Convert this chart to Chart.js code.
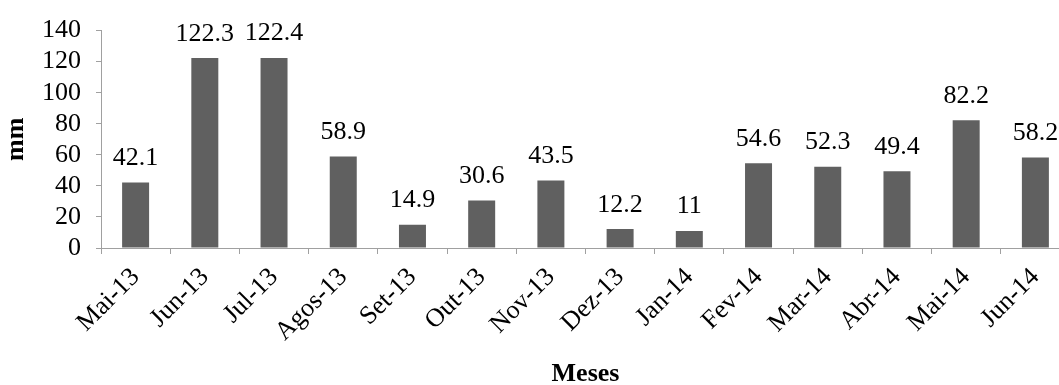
<!DOCTYPE html>
<html>
<head>
<meta charset="utf-8">
<script src="https://cdn.jsdelivr.net/npm/chart.js@4.4.1/dist/chart.umd.min.js"></script>
<style>
  html, body { margin: 0; padding: 0; background: #fff; overflow: hidden; }
  #wrap { width: 1070px; height: 385px; }
</style>
</head>
<body>
<div id="wrap"><canvas id="chart" width="1070" height="385"></canvas></div>
<script>
// dados
const months = ['Mai-13', 'Jun-13', 'Jul-13', 'Agos-13', 'Set-13', 'Out-13', 'Nov-13',
                'Dez-13', 'Jan-14', 'Fev-14', 'Mar-14', 'Abr-14', 'Mai-14', 'Jun-14'];
const rainfall = [42.1, 122.3, 122.4, 58.9, 14.9, 30.6, 43.5, 12.2, 11, 54.6, 52.3, 49.4, 82.2, 58.2];
const yMin = 0, yMax = 140, yStep = 20;
const yTitle = 'mm';
const xTitle = 'Meses';

const FONT = "'Times New Roman', 'Liberation Serif', serif";
const AXIS = '#a0a0a0';

// rótulos acima das barras
const barLabels = {
  id: 'barLabels',
  afterDatasetsDraw(chart) {
    const ctx = chart.ctx;
    const meta = chart.getDatasetMeta(0);
    ctx.save();
    ctx.font = '26px ' + FONT;
    ctx.fillStyle = '#000';
    ctx.textAlign = 'center';
    ctx.textBaseline = 'alphabetic';
    meta.data.forEach((bar, i) => {
      ctx.fillText(String(rainfall[i]), bar.x, bar.y - 17.5);
    });
    ctx.restore();
  }
};

new Chart(document.getElementById('chart'), {
  type: 'bar',
  data: {
    labels: months,
    datasets: [{
      data: rainfall,
      backgroundColor: '#606060',
      borderWidth: 0,
      barPercentage: 0.39,
      categoryPercentage: 1
    }]
  },
  options: {
    responsive: false,
    animation: false,
    layout: { padding: { top: 24, left: 0, right: 0, bottom: 0 } },
    plugins: { legend: { display: false }, tooltip: { enabled: false } },
    scales: {
      x: {
        afterFit: (s) => { s.height = 137; },
        grid: { drawOnChartArea: false, drawTicks: true, tickLength: 6, color: AXIS },
        border: { color: AXIS, width: 1 },
        ticks: {
          color: '#000', font: { family: FONT, size: 26 },
          minRotation: 45, maxRotation: 45, padding: 8, autoSkip: false
        },
        title: {
          display: true, text: xTitle, color: '#000',
          font: { family: FONT, size: 26, weight: 'bold', lineHeight: 0.85 },
          padding: { top: 0, bottom: 0 }
        }
      },
      y: {
        min: yMin, max: yMax,
        afterFit: (s) => { s.width = 101; },
        grid: { drawOnChartArea: false, drawTicks: true, tickLength: 5, color: AXIS },
        border: { color: AXIS, width: 1 },
        ticks: {
          stepSize: yStep, color: '#000', padding: 15, autoSkip: false,
          font: { family: FONT, size: 26 }
        },
        title: {
          display: true, text: yTitle, color: '#000',
          font: { family: FONT, size: 26, weight: 'bold', lineHeight: 0.85 },
          padding: { top: 5, bottom: 0 }
        }
      }
    }
  },
  plugins: [barLabels]
});
</script>
</body>
</html>
